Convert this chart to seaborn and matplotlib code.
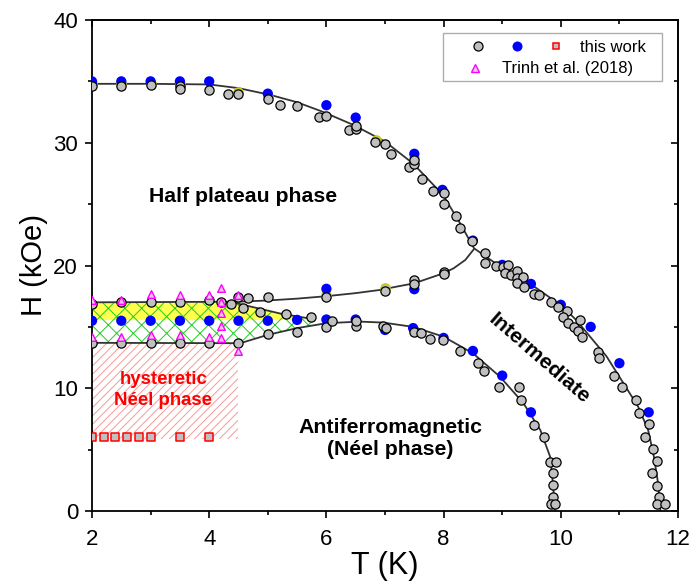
import numpy as np
import pandas as pd
import matplotlib
matplotlib.use("Agg")
import matplotlib.pyplot as plt
import seaborn as sns
from matplotlib.lines import Line2D
from matplotlib.legend_handler import HandlerTuple
from matplotlib.ticker import MultipleLocator

# ---------------- data ----------------
# gray circles (this work)
gray_T = [2.0, 2.5, 3.0, 3.5, 3.5, 4.0, 4.32, 4.5, 5.0, 5.2, 5.5, 5.88, 6.0, 6.39, 6.5, 6.5,
          6.83, 7.0, 7.1, 7.41, 7.5, 7.5, 7.63, 7.82, 8.0, 8.0, 8.21, 8.28, 8.48,
          8.71, 8.71, 8.89, 9.02, 9.1, 9.05, 9.15, 9.26, 9.25, 9.36, 9.25, 9.37, 9.54, 9.63,
          9.83, 9.96, 10.1, 10.04, 10.13, 10.22, 10.32, 10.3, 10.36, 10.64, 10.66, 10.9,
          11.04, 11.28, 11.33, 11.5, 11.44, 11.58, 11.64, 11.56, 11.65, 11.68, 11.65, 11.78,
          8.0, 8.0, 7.5, 7.5, 7.0, 6.0, 5.0, 4.67, 4.49, 4.58, 4.87, 4.37, 4.2, 4.0, 3.5,
          3.0, 2.5, 2.0, 5.31, 5.73,
          2.0, 2.5, 3.0, 3.5, 4.0, 4.5,
          5.0, 5.5, 6.0, 6.09, 6.5, 6.5, 6.97, 7.02, 7.5, 7.62, 7.77, 7.99, 8.28, 8.58,
          8.69, 8.95, 9.29, 9.32, 9.54, 9.71, 9.82, 9.92, 9.86, 9.86, 9.87, 9.83, 9.9]
gray_H = [34.6, 34.6, 34.7, 34.6, 34.4, 34.3, 34.0, 34.0, 33.55, 33.1, 33.0, 32.1, 32.2, 31.05, 31.1, 31.4,
          30.05, 29.9, 29.07, 28.06, 28.3, 28.6, 27.06, 26.05, 25.94, 25.0, 24.04, 23.04, 22.03,
          21.05, 20.2, 19.97, 19.9, 20.05, 19.37, 19.23, 19.58, 18.97, 19.05, 18.56, 18.23, 17.66, 17.6,
          17.06, 16.6, 16.3, 15.8, 15.3, 15.0, 15.57, 14.7, 14.16, 12.98, 12.44, 11.03,
          10.08, 9.05, 8.01, 7.07, 6.06, 5.03, 4.08, 3.07, 2.04, 1.12, 0.57, 0.57,
          19.5, 19.3, 18.8, 18.5, 17.93, 17.4, 17.4, 17.33, 17.47, 16.5, 16.25, 16.85, 17.06, 17.2, 17.06,
          17.06, 17.06, 16.9, 16.06, 15.8,
          13.7, 13.7, 13.7, 13.7, 13.7, 13.7,
          14.4, 14.6, 15.02, 15.5, 15.08, 15.5, 15.08, 14.94, 14.6, 14.5, 14.0, 13.9, 13.04, 12.04,
          11.4, 10.08, 10.08, 9.05, 7.0, 6.06, 4.02, 4.02, 3.07, 2.12, 1.17, 0.57, 0.57]

# blue dots (this work)
blue_T = [2.0, 2.5, 3.0, 3.5, 4.0, 5.0, 6.0, 6.5, 7.5, 7.98, 8.5, 9.0, 9.49, 10.0, 10.51, 11.0, 11.5,
          7.5, 6.0,
          2.0, 2.5, 3.0, 3.5, 4.0, 4.5, 5.0, 5.5, 6.0, 6.5,
          7.0, 7.48, 8.0, 8.5, 9.0, 9.49]
blue_H = [35.0, 35.0, 35.0, 35.0, 35.0, 34.0, 33.06, 32.05, 29.1, 26.16, 22.03, 20.05, 18.5, 16.8, 15.0, 12.04, 8.04,
          18.07, 18.1,
          15.5, 15.5, 15.5, 15.5, 15.5, 15.5, 15.5, 15.57, 15.6, 15.6,
          14.75, 14.9, 14.1, 13.04, 11.03, 8.04]

# yellow circles (mostly hidden)
yellow_T = [2.0, 2.5, 3.0, 3.5, 4.5, 5.0, 6.85, 7.5, 7.0, 6.0]
yellow_H = [34.8, 34.8, 34.85, 34.8, 34.1, 33.75, 30.2, 28.75, 18.15, 17.6]

# red squares (this work)
red_T = [2.0, 2.2, 2.4, 2.6, 2.8, 3.0, 3.5, 4.0]
red_H = [6.0, 6.0, 6.0, 6.0, 6.0, 6.0, 6.0, 6.0]

# magenta triangles (Trinh et al. 2018)
tri_T = [2.0, 2.0, 2.5, 2.5, 3.0, 3.0, 3.5, 3.5, 4.0, 4.0, 4.2, 4.2, 4.2, 4.2, 4.2, 4.5, 4.5]
tri_H = [17.2, 14.2, 17.2, 14.2, 17.7, 14.3, 17.6, 14.3, 17.6, 14.2, 18.15, 17.06, 16.1, 15.08, 14.07, 17.6, 13.06]

# guide-to-the-eye phase boundaries
upper_T = [2.0, 3.0, 4.0, 4.5, 5.04, 5.5, 5.95, 6.46, 7.0, 7.48, 7.99, 8.28, 8.52, 8.85, 9.3, 9.87,
           10.0, 10.26, 10.5, 10.78, 11.07, 11.32, 11.49, 11.59, 11.66, 11.7]
upper_H = [34.8, 34.8, 34.75, 34.45, 33.9, 33.3, 32.5, 31.45, 30.1, 28.3, 25.75, 23.45, 21.4, 20.3, 19.1, 17.2,
           16.8, 15.57, 14.2, 12.6, 10.4, 8.5, 6.6, 4.4, 2.26, 0.0]
middle_T = [8.52, 8.37, 8.17, 8.0, 7.7, 7.5, 7.2, 6.9, 6.5, 6.0, 5.5, 5.0, 4.5, 2.0]
middle_H = [21.35, 20.45, 19.77, 19.37, 18.88, 18.55, 18.28, 18.0, 17.75, 17.5, 17.3, 17.15, 17.05, 17.0]
dome_T = [2.0, 4.53, 5.0, 5.5, 6.0, 6.57, 6.97, 7.48, 8.0, 8.5, 8.96, 9.36, 9.65, 9.82, 9.87, 9.9]
dome_H = [13.7, 13.67, 14.35, 14.9, 15.3, 15.43, 15.35, 15.0, 14.2, 12.85, 10.95, 8.8, 6.6, 4.4, 2.0, 0.0]
split_T = [4.4, 5.2, 5.75]
split_H = [17.0, 16.1, 15.65]

# shaded regions
green_T = [2.0, 4.4, 5.2, 5.75, 5.75, 5.5, 5.0, 4.53, 2.0]
green_H = [17.0, 17.0, 16.1, 15.65, 15.1, 14.9, 14.35, 13.67, 13.7]
yellow_reg_T = [2.0, 4.4, 5.2, 5.75, 2.0]
yellow_reg_H = [17.0, 17.0, 16.1, 15.55, 15.55]
neel_T = [2.0, 4.5]
neel_Hlow = 5.9
neel_Hhigh = 13.7

x_ticks = [2, 4, 6, 8, 10, 12]
y_ticks = [0, 10, 20, 30, 40]

# ---------------- style ----------------
sns.set_theme(style="ticks")
plt.rcParams['font.family'] = ['Liberation Sans', 'DejaVu Sans']
plt.rcParams['hatch.linewidth'] = 0.7
plt.rcParams['text.color'] = 'black'
plt.rcParams['axes.labelcolor'] = 'black'
plt.rcParams['xtick.color'] = 'black'
plt.rcParams['ytick.color'] = 'black'

fig = plt.figure(figsize=(6.92, 5.83), dpi=100)
ax = fig.add_axes([92/692, 1-511/583, (678-92)/692, (511-20)/583])

# regions
ax.fill_between(neel_T, neel_Hlow, neel_Hhigh, facecolor='none', edgecolor='#f49a9a',
                hatch='////', linewidth=0, zorder=1)
ax.fill(yellow_reg_T, yellow_reg_H, facecolor='#ffff4d', edgecolor='none', zorder=1)
ax.fill(green_T, green_H, facecolor='none', edgecolor='#22cc22', hatch='xx', linewidth=0, zorder=1.5)

# lines
line_kw = dict(color='#333333', linewidth=1.3, sort=False, estimator=None, legend=False, zorder=2)
for tt, hh in [(upper_T, upper_H), (middle_T, middle_H), (dome_T, dome_H), (split_T, split_H)]:
    sns.lineplot(data=pd.DataFrame({'T': tt, 'H': hh}), x='T', y='H', ax=ax, **line_kw)

# points
sns.scatterplot(x=yellow_T, y=yellow_H, ax=ax, marker='o', s=44, color='#c0c0c0',
                edgecolor='#c8c800', linewidth=1.0, zorder=3)
sns.scatterplot(x=blue_T, y=blue_H, ax=ax, marker='o', s=55, color='#0000ff',
                edgecolor='none', linewidth=0, zorder=3.5)
sns.scatterplot(x=gray_T, y=gray_H, ax=ax, marker='o', s=44, color='#c0c0c0',
                edgecolor='black', linewidth=0.9, zorder=4)
sns.scatterplot(x=red_T, y=red_H, ax=ax, marker='s', s=26, color='#c0c0c0',
                edgecolor='#ff0000', linewidth=1.1, zorder=4)
sns.scatterplot(x=tri_T, y=tri_H, ax=ax, marker='^', s=30, color='#e8c8e8',
                edgecolor='#ff00ff', linewidth=1.0, zorder=4.5)

# axes
ax.set_xlim(2, 12)
ax.set_ylim(0, 40)
ax.set_xticks(x_ticks)
ax.set_yticks(y_ticks)
ax.xaxis.set_minor_locator(MultipleLocator(1))
ax.yaxis.set_minor_locator(MultipleLocator(5))
ax.tick_params(which='both', direction='out', width=1.2, labelsize=16, colors='black')
ax.tick_params(which='major', length=5)
ax.tick_params(which='minor', length=3)
ax.tick_params(axis='x', pad=8)
ax.tick_params(axis='y', pad=5)
for sp in ax.spines.values():
    sp.set_visible(True)
    sp.set_linewidth(1.3)
    sp.set_color('black')

secx = ax.secondary_xaxis('top')
secx.set_xticks(x_ticks)
secx.xaxis.set_minor_locator(MultipleLocator(1))
secx.tick_params(which='both', direction='in', width=1.2, labeltop=False)
secx.tick_params(which='major', length=5)
secx.tick_params(which='minor', length=3)
secy = ax.secondary_yaxis('right')
secy.set_yticks(y_ticks)
secy.yaxis.set_minor_locator(MultipleLocator(5))
secy.tick_params(which='both', direction='in', width=1.2, labelright=False)
secy.tick_params(which='major', length=5)
secy.tick_params(which='minor', length=3)

ax.set_xlabel('T (K)', fontsize=22, labelpad=1)
ax.set_ylabel('H (kOe)', fontsize=21, labelpad=4)

# texts
ax.text(4.585, 25.6, 'Half plateau phase', fontsize=15.3, fontweight='bold', ha='center', va='center')
ax.text(3.22, 9.86, 'hysteretic\nNéel phase', fontsize=13.4, fontweight='bold', color='#ff0000',
        ha='center', va='center', linespacing=1.3)
ax.text(7.09, 5.93, 'Antiferromagnetic\n(Néel phase)', fontsize=15.3, fontweight='bold',
        ha='center', va='center', linespacing=1.2)
ax.text(9.63, 12.38, 'Intermediate', fontsize=15.3, fontweight='bold', rotation=-41,
        rotation_mode='anchor', ha='center', va='center')

# legend
h_gray = Line2D([], [], ls='none', marker='o', ms=6.5, mfc='#c0c0c0', mec='black', mew=0.9)
h_blue = Line2D([], [], ls='none', marker='o', ms=7.2, mfc='#0000ff', mec='none')
h_red = Line2D([], [], ls='none', marker='s', ms=5.0, mfc='#c0c0c0', mec='#ff0000', mew=1.1)
h_tri = Line2D([], [], ls='none', marker='^', ms=5.5, mfc='#e8c8e8', mec='#ff00ff', mew=1.0)
h_none = Line2D([], [], ls='none')

leg2 = ax.legend([h_none, h_tri], ['Trinh et al. (2018)Wn', 'Trinh et al. (2018)'],
                 loc='upper right', bbox_to_anchor=(0.9727, 0.9735), borderaxespad=0,
                 borderpad=0.25, labelspacing=0.55, handlelength=3.35, handletextpad=-0.1,
                 fontsize=12, frameon=True, fancybox=False, shadow=False)
leg2.get_frame().set_edgecolor('#999999')
leg2.get_frame().set_linewidth(1.0)
leg2.get_texts()[0].set_alpha(0)
ax.add_artist(leg2)

leg1 = ax.legend([(h_gray, h_blue, h_red)], ['this work'],
                 handler_map={tuple: HandlerTuple(ndivide=None, pad=0)},
                 loc='center left', bbox_to_anchor=(0.6254, 0.945), borderaxespad=0,
                 borderpad=0, handlelength=7.0, handletextpad=0.27, fontsize=12, frameon=False)
leg1.set_zorder(10)

fig.savefig('out.png', dpi=100)
